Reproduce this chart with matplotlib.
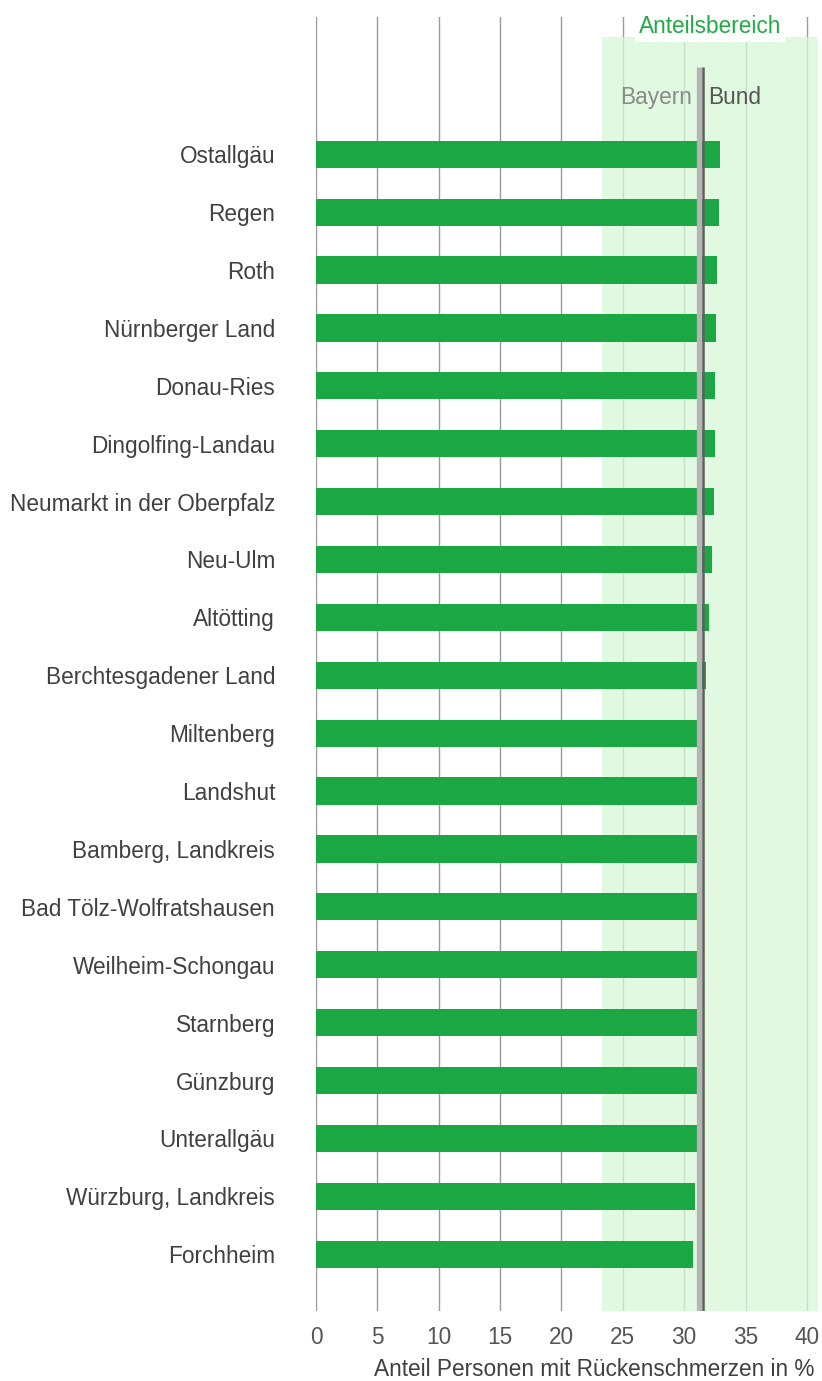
import matplotlib.pyplot as plt

# Data
regions = ['Ostallgäu', 'Regen', 'Roth', 'Nürnberger Land', 'Donau-Ries',
           'Dingolfing-Landau', 'Neumarkt in der Oberpfalz', 'Neu-Ulm',
           'Altötting', 'Berchtesgadener Land', 'Miltenberg', 'Landshut',
           'Bamberg, Landkreis', 'Bad Tölz-Wolfratshausen', 'Weilheim-Schongau',
           'Starnberg', 'Günzburg', 'Unterallgäu', 'Würzburg, Landkreis',
           'Forchheim']
values = [32.9, 32.8, 32.7, 32.6, 32.5, 32.5, 32.4, 32.3, 32.0, 31.8,
          31.4, 31.4, 31.3, 31.3, 31.2, 31.2, 31.1, 31.1, 30.9, 30.7]
bayern = 31.2
bund = 31.55
range_lo, range_hi = 23.3, 40.9
xticks = [0, 5, 10, 15, 20, 25, 30, 35, 40]

plt.rcParams['font.family'] = ['Liberation Sans', 'DejaVu Sans']

fig = plt.figure(figsize=(8.22, 13.81), dpi=100)
ax = fig.add_axes([316 / 822, 1 - 1311 / 1381, 502 / 822, (1311 - 17) / 1381])

n = len(regions)
ypos = list(range(n))
top = -2.37
bottom = 19.98

# grid lines
for t in xticks:
    ax.plot([t, t], [bottom, top], color='#9a9a9a', lw=1, zorder=1)

# shaded range
ax.fill_between([range_lo, range_hi], bottom, -2.02, color='#d6f8d6', alpha=0.75,
                lw=0, zorder=2)

ax.barh(ypos, values, height=0.47, color='#1ba844', zorder=3)

# reference lines
ax.plot([bayern, bayern], [bottom, -1.5], color='#b5b5b5', lw=3.8, zorder=4,
        solid_capstyle='butt')
ax.plot([bund, bund], [bottom, -1.5], color='#5f5f5f', lw=1.8, zorder=5,
        solid_capstyle='butt')

ax.text(bayern - 0.6, -0.98, 'Bayern', ha='right', va='center', fontsize=16.3,
        color='#8a8a8a', zorder=6)
ax.text(bund + 0.4, -0.98, 'Bund', ha='left', va='center', fontsize=16.3,
        color='#555555', zorder=6)
ax.text(32.1, -2.2, 'Anteilsbereich', ha='center', va='center', fontsize=16.3,
        color='#22aa44', zorder=6,
        bbox=dict(facecolor='white', edgecolor='none', pad=3))

ax.set_xlim(0, 40.9)
ax.set_ylim(bottom, top)
ax.set_yticks(ypos)
ax.set_yticklabels(regions, fontsize=16.3, color='#404040')
ax.set_xticks(xticks)
ax.set_xticklabels([str(t) for t in xticks], fontsize=16.3, color='#555555')
ax.tick_params(axis='y', length=0, pad=29.5)
ax.tick_params(axis='x', length=0, pad=11)
ax.set_xlabel('Anteil Personen mit Rückenschmerzen in %', fontsize=16.3,
              color='#404040', ha='right')
ax.xaxis.set_label_coords(0.992, -0.036)
for s in ax.spines.values():
    s.set_visible(False)

fig.savefig('out.png', dpi=100, facecolor='white')
